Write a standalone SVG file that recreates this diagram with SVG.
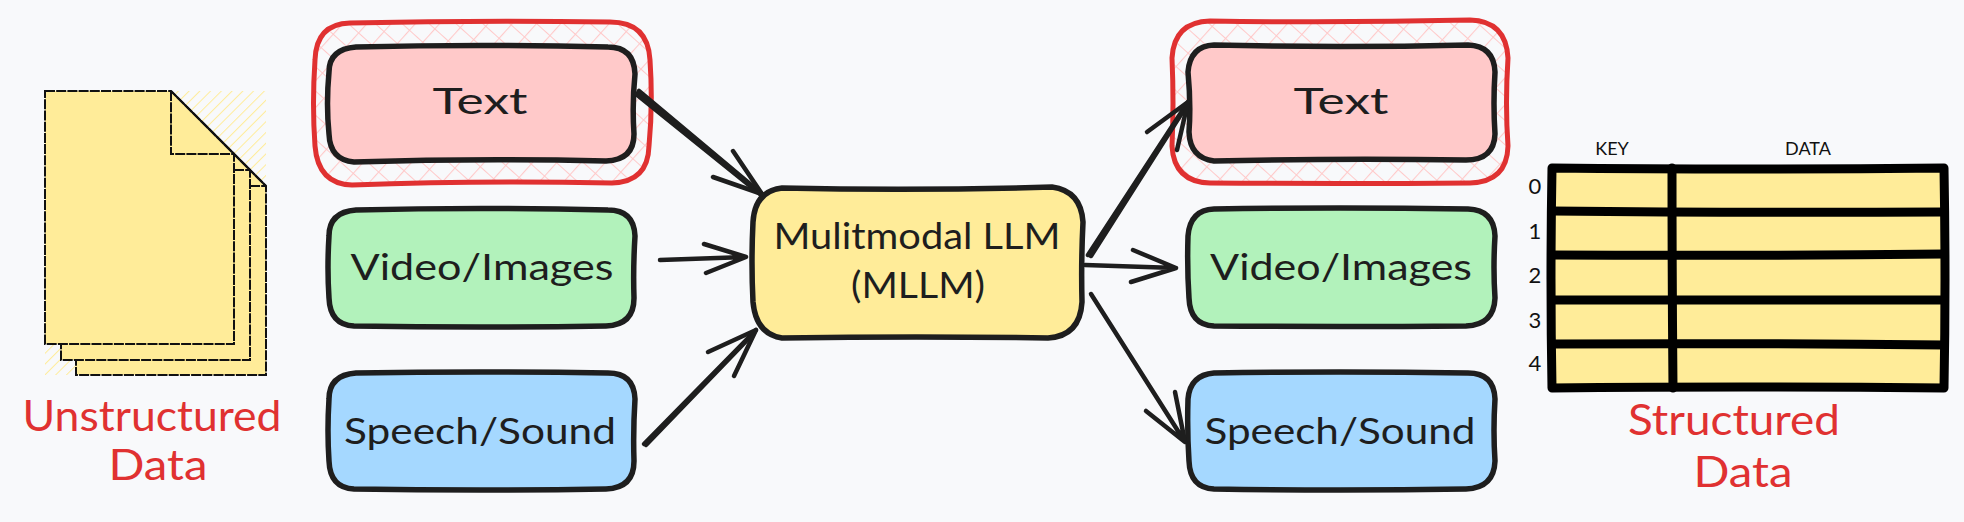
<svg xmlns="http://www.w3.org/2000/svg" width="1964" height="522" viewBox="0 0 1964 522">
<defs>
<style>
text{font-family:"Lato","Noto Sans",sans-serif;text-anchor:middle;fill:#1e1e1e}
.node{stroke:#1e1e1e;stroke-width:5.5;stroke-linejoin:round}
.outer{fill:url(#cross);stroke:#e03131;stroke-width:5;stroke-linejoin:round}
.pink{fill:#ffc9c9}.green{fill:#b2f2bb}.blue{fill:#a5d8ff}.yellow{fill:#ffec99}
.lbl{font-size:37px}
.red{font-size:43px;fill:#e03131}
.small{font-size:18px;fill:#111}
.idx{font-size:22px;fill:#111}
.page{fill:#ffec99;stroke:#111;stroke-width:2;stroke-dasharray:10 1.2;stroke-linejoin:miter}
.fold{fill:none;stroke:#111;stroke-width:2;stroke-dasharray:10 1.2}
.ln{fill:none;stroke:#000;stroke-width:9;stroke-linecap:round;stroke-linejoin:round}
#connectors path{fill:none;stroke:#1e1e1e;stroke-width:4.5;stroke-linecap:round;stroke-linejoin:round}
</style>
<pattern id="cross" width="18" height="18" patternUnits="userSpaceOnUse" patternTransform="rotate(42)">
<path d="M0,0H18M0,0V18" fill="none" stroke="#ffc9c9" stroke-width="2.2"/>
</pattern>
<pattern id="hatch" width="7.6" height="7.6" patternUnits="userSpaceOnUse" patternTransform="rotate(-45)">
<path d="M0,0H7.6" fill="none" stroke="#ffec99" stroke-width="2"/>
</pattern>
</defs>
<rect width="1964" height="522" fill="#f8f9fb"/>

<g id="doc-stack">
<rect x="45" y="91" width="221" height="284" fill="url(#hatch)"/>
<path class="page" d="M76,122H202L266,186V375H76Z"/>
<path class="page" d="M61,107H187L250,170V360H61Z"/>
<path class="fold" d="M234,170H250"/>
<path class="fold" d="M250,186H266"/>
<path class="page" d="M45,91H171L234,154V344H45Z"/>
<path class="fold" d="M171,91V154H234"/>
<path d="M171,91L266,186" fill="none" stroke="#111" stroke-width="2"/>
<text class="red" x="152" y="431" textLength="259" lengthAdjust="spacingAndGlyphs">Unstructured</text>
<text class="red" x="158" y="480" textLength="99" lengthAdjust="spacingAndGlyphs">Data</text>
</g>

<g id="text-in">
<path class="outer" d="M350,23Q480,20 610,22Q648,22 650,60Q653,104 649,146Q648,182 612,183Q480,180 352,185Q318,184 315,146Q312,104 315,60Q316,24 350,23Z"/>
<path class="node pink" d="M356,47Q480,44 608,47Q634,47 635,74Q632,104 634,134Q634,160 606,161Q480,158 354,162Q330,160 329,134Q326,104 329,72Q329,49 356,47Z"/>
<text class="lbl" x="480" y="114" textLength="95" lengthAdjust="spacingAndGlyphs">Text</text>
</g>
<g id="video-in">
<path class="node green" d="M356,210Q480,207 608,210Q634,210 635,236Q633,268 634,298Q634,325 606,326Q480,328 354,326Q330,325 329,298Q327,268 329,236Q329,212 356,210Z"/>
<text class="lbl" x="482" y="280" textLength="263" lengthAdjust="spacingAndGlyphs">Video/Images</text>
</g>
<g id="speech-in">
<path class="node blue" d="M356,373Q480,371 608,373Q634,373 635,399Q633,431 634,461Q634,488 606,489Q480,491 354,489Q330,488 329,461Q327,431 329,399Q329,375 356,373Z"/>
<text class="lbl" x="480" y="444" textLength="272" lengthAdjust="spacingAndGlyphs">Speech/Sound</text>
</g>

<g id="mllm">
<path class="node yellow" d="M782,188Q918,191 1052,187Q1081,191 1083,222Q1081,262 1082,302Q1080,336 1048,338Q918,336 782,338Q756,334 753,302Q751,262 753,222Q755,191 782,188Z"/>
<text class="lbl" x="917" y="249" textLength="287" lengthAdjust="spacingAndGlyphs">Mulitmodal LLM</text>
<text class="lbl" x="918" y="298" textLength="134" lengthAdjust="spacingAndGlyphs">(MLLM)</text>
</g>

<g id="text-out">
<path class="outer" d="M1210,21Q1340,23 1470,20Q1506,21 1508,58Q1505,104 1508,146Q1507,182 1470,183Q1340,184 1210,183Q1174,182 1172,146Q1174,104 1172,58Q1174,22 1210,21Z"/>
<path class="node pink" d="M1214,45Q1340,48 1468,45Q1494,46 1495,72Q1493,104 1495,134Q1494,160 1466,160Q1340,158 1214,161Q1190,158 1189,132Q1191,104 1188,72Q1190,46 1214,45Z"/>
<text class="lbl" x="1341" y="114" textLength="95" lengthAdjust="spacingAndGlyphs">Text</text>
</g>
<g id="video-out">
<path class="node green" d="M1214,209Q1340,207 1468,209Q1494,210 1495,236Q1493,268 1495,298Q1494,325 1466,326Q1340,327 1214,326Q1190,325 1189,298Q1187,268 1188,236Q1190,210 1214,209Z"/>
<text class="lbl" x="1341" y="280" textLength="262" lengthAdjust="spacingAndGlyphs">Video/Images</text>
</g>
<g id="speech-out">
<path class="node blue" d="M1214,373Q1340,371 1468,373Q1494,373 1495,399Q1493,431 1495,461Q1494,488 1466,489Q1340,491 1214,489Q1190,488 1189,461Q1187,431 1188,399Q1190,375 1214,373Z"/>
<text class="lbl" x="1340" y="444" textLength="271" lengthAdjust="spacingAndGlyphs">Speech/Sound</text>
</g>

<g id="table">
<rect x="1552" y="168" width="392" height="220" fill="#ffec99"/>
<path class="ln" d="M1552,168Q1740,170 1944,168Q1946,280 1944,388Q1740,386 1552,388Q1550,280 1552,168Z"/>
<path class="ln" d="M1672,168Q1672,280 1673,388"/>
<path class="ln" d="M1552,211Q1740,213 1944,212"/>
<path class="ln" d="M1552,255Q1740,256 1944,254"/>
<path class="ln" d="M1552,300Q1740,300 1944,300"/>
<path class="ln" d="M1552,344Q1740,343 1944,345"/>
<text class="small" x="1612" y="155">KEY</text>
<text class="small" x="1808" y="155">DATA</text>
<text class="idx" x="1535" y="194">0</text>
<text class="idx" x="1535" y="239">1</text>
<text class="idx" x="1535" y="283">2</text>
<text class="idx" x="1535" y="328">3</text>
<text class="idx" x="1535" y="371">4</text>
<text class="red" x="1734" y="435" textLength="212" lengthAdjust="spacingAndGlyphs">Structured</text>
<text class="red" x="1743" y="487" textLength="99" lengthAdjust="spacingAndGlyphs">Data</text>
</g>

<g id="connectors">
<path d="M639,91L762,194M636,94L760,194M638,93L761,194"/>
<path d="M733,151L762,194L713,177"/>
<path d="M660,260L746,257M704,244L746,257L706,273"/>
<path d="M644,444L756,330M646,445L754,333"/>
<path d="M708,352L756,330L734,376"/>
<path d="M1088,255L1188,102M1091,256L1187,105"/>
<path d="M1147,132L1188,102L1177,150"/>
<path d="M1085,265L1176,268M1133,250L1176,268L1131,282"/>
<path d="M1091,294L1185,442M1175,392L1185,442L1146,411"/>
</g>
</svg>
